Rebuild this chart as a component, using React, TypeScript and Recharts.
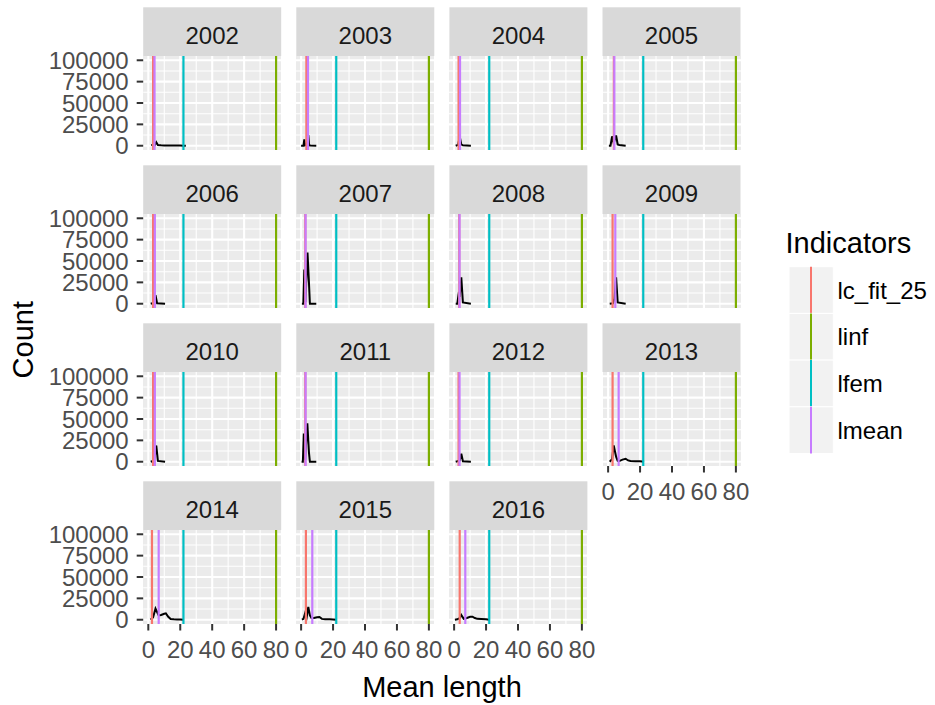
import React from 'react';
import { LineChart, Line, XAxis, YAxis, ReferenceLine } from 'recharts';

// Survey years, one facet each
const years = ['2002', '2003', '2004', '2005', '2006', '2007', '2008', '2009', '2010', '2011', '2012', '2013', '2014', '2015', '2016'];

// Length-frequency per year: mean length (cm) and count
const len2002 = [2, 3, 4, 5, 6, 8, 10, 12, 14, 16, 18, 20, 22, 23.5];
const count2002 = [0, 2000, 500, 4000, 800, 500, 400, 300, 300, 200, 200, 200, 100, 0];
const len2003 = [0, 1.5, 2, 2.5, 3.5, 4.5, 5, 6, 9.5];
const count2003 = [0, 0, 7500, 500, 1000, 12500, 500, 300, 0];
const len2004 = [1, 2.5, 3.5, 4.5, 5.5, 10.5];
const count2004 = [0, 1000, 11000, 1500, 500, 0];
const len2005 = [0.5, 1.5, 2.5, 3.5, 5, 6, 7, 11];
const count2005 = [0, 0, 11000, 3000, 12000, 1500, 800, 0];
const len2006 = [1.5, 2.5, 3.5, 4.5, 5.5, 10.5];
const count2006 = [0, 500, 2000, 10000, 500, 0];
const len2007 = [0.5, 1.4, 2.0, 2.7, 4.0, 4.9, 5.5, 9.5];
const count2007 = [0, 0, 40000, 2000, 60000, 25000, 0, 0];
const len2008 = [1, 2, 3, 3.5, 4.5, 5.5, 10.5];
const count2008 = [0, 0, 14000, 8000, 31000, 1500, 0];
const len2009 = [1, 3, 4, 5, 6, 11];
const count2009 = [0, 500, 6000, 31000, 1500, 0];
const len2010 = [1.5, 3, 4, 5, 6, 10.5];
const count2010 = [0, 1000, 5000, 19000, 1000, 0];
const len2011 = [0.3, 1.1, 1.7, 2.5, 3.9, 4.9, 5.5, 9.5];
const count2011 = [0, 0, 33000, 2000, 45000, 11000, 0, 0];
const len2012 = [1, 2, 3.5, 4.5, 5.5, 10.5];
const count2012 = [0, 500, 1500, 9500, 500, 0];
const len2013 = [1, 2.5, 3.5, 5, 6, 7, 9, 11, 12.5, 14, 17, 20, 22.5];
const count2013 = [0, 3000, 19000, 6000, 1000, 800, 2500, 3500, 1500, 800, 700, 600, 0];
const len2014 = [1.5, 3, 4.5, 5.5, 6.5, 8, 10, 11, 12.5, 14, 16, 18, 20, 22];
const count2014 = [0, 3000, 13000, 9000, 5000, 5500, 7000, 7500, 3500, 800, 500, 400, 300, 0];
const len2015 = [0.5, 1.5, 2.5, 3.5, 4.5, 5.5, 6.5, 8, 10, 11.5, 13, 15, 18, 20, 22];
const count2015 = [0, 1000, 7500, 3000, 15000, 5000, 2000, 2000, 3000, 3200, 1000, 700, 500, 400, 0];
const len2016 = [0.5, 2, 3.5, 4.5, 6, 8, 10, 11.5, 13, 14.5, 17, 20, 22];
const count2016 = [0, 500, 2000, 5500, 1000, 2000, 3500, 3500, 2000, 1000, 800, 600, 0];

const lengthSets = [len2002, len2003, len2004, len2005, len2006, len2007, len2008, len2009, len2010, len2011, len2012, len2013, len2014, len2015, len2016];
const countSets = [count2002, count2003, count2004, count2005, count2006, count2007, count2008, count2009, count2010, count2011, count2012, count2013, count2014, count2015, count2016];

// Length indicators per year
const lcFit25 = [3.0, 3.3, 2.8, 3.6, 3.0, 2.6, 3.2, 2.8, 3.0, 2.6, 2.8, 2.8, 2.3, 3.0, 3.5];
const linf = [80, 80, 80, 80, 80, 80, 80, 80, 80, 80, 80, 80, 80, 80, 80];
const lfem = [22, 22, 22, 22, 22, 22, 22, 22, 22, 22, 22, 22, 22, 22, 22];
const lmean = [3.9, 4.3, 3.7, 3.9, 4.1, 2.8, 3.4, 4.5, 4.1, 2.8, 3.4, 6.6, 6.5, 7.0, 7.0];

const indicatorNames = ['lc_fit_25', 'linf', 'lfem', 'lmean'];
const indicatorColors = ['#F8766D', '#7CAE00', '#00BFC4', '#C77CFF'];

const xTicks = [0, 20, 40, 60, 80];
const xMinor = [10, 30, 50, 70];
const yTicks = [0, 25000, 50000, 75000, 100000];
const yMinor = [12500, 37500, 62500, 87500];

const X_DOMAIN: [number, number] = [-3.2, 83.2];
const Y_DOMAIN: [number, number] = [-5000, 105000];

const PANEL_W = 138;
const PLOT_H = 94;
const STRIP_H = 48.7;
const PAD = 18;
const AXIS_H = 44;
const colX = (c: number) => 143.2 + 153.1 * c;
const rowY = (r: number) => 56 + 158 * r;

const FONT = '"Liberation Sans", Arial, sans-serif';
const SMALL = 24;
const TITLE = 29;

function Panel({ i }: { i: number }) {
  const col = i % 4;
  const row = Math.floor(i / 4);
  const showY = col === 0;
  const showX = row === 3 || i === 11;
  const x0 = colX(col);
  const y0 = rowY(row);
  const leftW = showY ? x0 : PAD;
  const width = leftW + PANEL_W + PAD;
  const height = PAD + PLOT_H + (showX ? AXIS_H : PAD);
  const data = lengthSets[i].map((l, k) => ({ len: l, count: countSets[i][k] }));
  const values = [lcFit25[i], linf[i], lfem[i], lmean[i]];
  const tickStyle = { fill: '#4D4D4D', fontSize: SMALL, fontFamily: FONT };
  return (
    <>
      <div style={{ position: 'absolute', left: x0, top: y0, width: PANEL_W, height: PLOT_H, background: '#EBEBEB' }} />
      <div style={{ position: 'absolute', left: x0 - leftW, top: y0 - PAD }}>
        <LineChart
          width={width}
          height={height}
          data={data}
          margin={{ top: PAD, right: PAD, bottom: showX ? 0 : PAD, left: showY ? 0 : PAD }}
        >
          <XAxis
            dataKey="len"
            type="number"
            domain={X_DOMAIN}
            ticks={xTicks}
            interval={0}
            hide={!showX}
            height={AXIS_H}
            axisLine={false}
            tickLine={{ stroke: '#333333', strokeWidth: 2 }}
            tickSize={6.5}
            tickMargin={10.5}
            tick={tickStyle}
            allowDataOverflow
          />
          <YAxis
            type="number"
            domain={Y_DOMAIN}
            ticks={yTicks}
            interval={0}
            hide={!showY}
            width={showY ? x0 : 0}
            axisLine={false}
            tickLine={{ stroke: '#333333', strokeWidth: 2 }}
            tickSize={6.5}
            tickMargin={8}
            tick={tickStyle}
            allowDataOverflow
          />
          {xMinor.map((v) => (
            <ReferenceLine key={'xm' + v} x={v} stroke="#FFFFFF" strokeWidth={1.1} />
          ))}
          {yMinor.map((v) => (
            <ReferenceLine key={'ym' + v} y={v} stroke="#FFFFFF" strokeWidth={1.1} />
          ))}
          {xTicks.map((v) => (
            <ReferenceLine key={'xM' + v} x={v} stroke="#FFFFFF" strokeWidth={2.1} />
          ))}
          {yTicks.map((v) => (
            <ReferenceLine key={'yM' + v} y={v} stroke="#FFFFFF" strokeWidth={2.1} />
          ))}
          <Line
            type="linear"
            dataKey="count"
            stroke="#000000"
            strokeWidth={2}
            dot={false}
            activeDot={false}
            isAnimationActive={false}
          />
          {values.map((v, k) => (
            <ReferenceLine key={'ind' + k} x={v} stroke={indicatorColors[k]} strokeWidth={2.2} />
          ))}
        </LineChart>
      </div>
    </>
  );
}

export default function App() {
  const keyTop = 266.7;
  const keyH = 46.7;
  return (
    <div style={{ position: 'absolute', left: 0, top: 0, width: 935, height: 705, background: '#FFFFFF', fontFamily: FONT }}>
      <svg width={935} height={705} style={{ position: 'absolute', left: 0, top: 0 }}>
        {years.map((yr, i) => {
          const x0 = colX(i % 4);
          const top = rowY(Math.floor(i / 4)) - STRIP_H;
          return (
            <g key={yr}>
              <rect x={x0} y={top} width={PANEL_W} height={STRIP_H} fill="#D9D9D9" />
              <text x={x0 + PANEL_W / 2} y={top + 36.3} textAnchor="middle" fontSize={SMALL} fill="#1A1A1A" fontFamily={FONT}>
                {yr}
              </text>
            </g>
          );
        })}
        <text x={33.5} y={339.7} transform="rotate(-90 33.5 339.7)" textAnchor="middle" fontSize={TITLE} fill="#000000" fontFamily={FONT}>
          Count
        </text>
        <text x={442} y={697} textAnchor="middle" fontSize={TITLE} fill="#000000" fontFamily={FONT}>
          Mean length
        </text>
        <text x={785.5} y={253.3} fontSize={TITLE} fill="#000000" fontFamily={FONT}>
          Indicators
        </text>
        {indicatorNames.map((name, k) => {
          const y = keyTop + keyH * k;
          return (
            <g key={name}>
              <rect x={789} y={y} width={44.3} height={keyH} fill="#F2F2F2" stroke="#FFFFFF" strokeWidth={1} />
              <line x1={811} x2={811} y1={y} y2={y + keyH} stroke={indicatorColors[k]} strokeWidth={2} />
              <text x={837.5} y={y + keyH / 2 + 8.6} fontSize={SMALL} fill="#000000" fontFamily={FONT}>
                {name}
              </text>
            </g>
          );
        })}
      </svg>
      {years.map((yr, i) => (
        <Panel key={yr} i={i} />
      ))}
    </div>
  );
}
